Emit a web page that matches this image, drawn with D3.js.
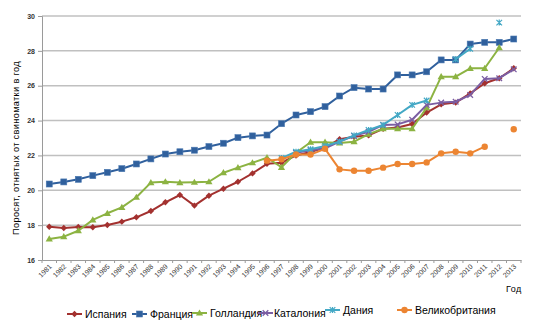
<!DOCTYPE html>
<html><head><meta charset="utf-8">
<script src="https://cdn.jsdelivr.net/npm/d3@7"></script>
<style>
html,body{margin:0;padding:0;background:#fff;}
svg{display:block;font-family:"Liberation Sans",Arial,sans-serif;}
</style></head>
<body><svg id="c" width="550" height="326"></svg>
<script>
const years = d3.range(1981, 2014);
const yTicks = [16,18,20,22,24,26,28,30];
const spain = [17.91,17.84,17.9,17.88,18.01,18.2,18.45,18.81,19.31,19.73,19.12,19.69,20.09,20.49,20.97,21.52,21.58,22.0,22.2,22.45,22.93,23.07,23.15,23.53,23.6,23.8,24.46,24.93,25.03,25.56,26.14,26.43,27.0];
const france = [20.36,20.48,20.63,20.84,21.03,21.24,21.51,21.8,22.08,22.21,22.3,22.51,22.7,23.02,23.12,23.17,23.82,24.32,24.51,24.8,25.41,25.89,25.81,25.81,26.62,26.62,26.8,27.48,27.48,28.39,28.49,28.49,28.68];
const holland = [17.21,17.34,17.68,18.3,18.68,19.02,19.6,20.44,20.49,20.44,20.46,20.49,21.01,21.3,21.58,21.87,21.32,22.15,22.76,22.76,22.72,22.79,23.22,23.53,23.53,23.53,24.74,26.52,26.52,27.0,27.0,28.18,null];
const catalonia = [null,null,null,null,null,null,null,null,null,null,null,null,null,null,null,null,null,22.15,22.3,22.41,22.8,23.12,23.36,23.75,23.78,24.05,24.9,25.03,25.08,25.47,26.39,26.43,26.94];
const denmark = [null,null,null,null,null,null,null,null,null,null,null,null,null,null,null,null,21.85,22.21,22.35,22.54,22.79,23.15,23.46,23.75,24.32,24.9,25.15,null,27.52,28.12,null,29.62,null];
const uk = [null,null,null,null,null,null,null,null,null,null,null,null,null,null,null,21.7,21.78,22.05,22.05,22.38,21.2,21.12,21.12,21.3,21.51,21.51,21.6,22.12,22.21,22.12,22.5,null,23.5];
const seriesNames = ["Испания","Франция","Голландия","Каталония","Дания","Великобритания"];

const series = [
  {name:seriesNames[0], values:spain, color:"#A3312F", marker:"diamond"},
  {name:seriesNames[1], values:france, color:"#30609D", marker:"square"},
  {name:seriesNames[2], values:holland, color:"#8CB342", marker:"triangle"},
  {name:seriesNames[3], values:catalonia, color:"#7B5EA3", marker:"x"},
  {name:seriesNames[4], values:denmark, color:"#43A8C5", marker:"star"},
  {name:seriesNames[5], values:uk, color:"#EC8532", marker:"circle"}
];

const svg = d3.select("#c");
const L = 42, R = 521, T = 16, B = 260;
const x = d3.scaleBand().domain(years).range([L, R]).padding(0);
const y = d3.scaleLinear().domain([16, 30]).range([B, T]);
const cx = yr => x(yr) + x.bandwidth()/2;

// gridlines
svg.append("g").selectAll("line").data(yTicks.filter(t => t > 16)).join("line")
  .attr("x1", L).attr("x2", R).attr("y1", d => y(d)).attr("y2", d => y(d))
  .attr("stroke", "#C0C0C0").attr("stroke-width", 1.5);

// y axis
const yAxis = svg.append("g").attr("transform", `translate(${L},0)`)
  .call(d3.axisLeft(y).tickValues(yTicks).tickSize(4).tickPadding(3).tickFormat(d3.format("d")));
yAxis.select(".domain").attr("stroke", "#9A9A9A");
yAxis.selectAll(".tick line").attr("stroke", "#9A9A9A");
yAxis.selectAll("text").attr("font-size", 7).attr("fill", "#333").attr("font-weight", "bold");

// x axis
const xAxis = svg.append("g").attr("transform", `translate(0,${B})`)
  .call(d3.axisBottom(x).tickSize(0).tickPadding(0));
xAxis.select(".domain").attr("stroke", "#9A9A9A");
xAxis.selectAll("text")
  .attr("font-size", 7).attr("fill", "#333")
  .attr("text-anchor", "end")
  .attr("dy", 0).attr("y", 0)
  .attr("transform", "translate(3,7) rotate(-45)");
// boundary ticks
svg.append("g").selectAll("line").data(years.concat([null])).join("line")
  .attr("x1", d => d == null ? R : x(d)).attr("x2", d => d == null ? R : x(d))
  .attr("y1", B).attr("y2", B + 3).attr("stroke", "#9A9A9A");

// axis titles
svg.append("text").attr("transform", `translate(19,148) rotate(-90)`)
  .attr("text-anchor", "middle").attr("font-size", 9.2).attr("letter-spacing", 0.35)
  .attr("fill", "#000").text("Поросят, отнятых от свиноматки в год");
svg.append("text").attr("x", 506).attr("y", 292).attr("font-size", 9).attr("letter-spacing", 0.5)
  .attr("fill", "#000").text("Год");

function drawMarker(g, type, color, px, py) {
  if (type === "square") {
    g.append("rect").attr("x", px-3).attr("y", py-3).attr("width", 6).attr("height", 6)
      .attr("fill", color).attr("stroke", "#4a78b0").attr("stroke-width", 0.6);
  } else if (type === "diamond") {
    g.append("path").attr("d", `M${px},${py-3.2}L${px+3.2},${py}L${px},${py+3.2}L${px-3.2},${py}Z`).attr("fill", color);
  } else if (type === "triangle") {
    g.append("path").attr("d", `M${px},${py-3.6}L${px+3.6},${py+2.6}L${px-3.6},${py+2.6}Z`).attr("fill", color);
  } else if (type === "circle") {
    g.append("circle").attr("cx", px).attr("cy", py).attr("r", 3.2).attr("fill", color);
  } else if (type === "x") {
    g.append("path").attr("d", `M${px-2.8},${py-2.8}L${px+2.8},${py+2.8}M${px-2.8},${py+2.8}L${px+2.8},${py-2.8}`)
      .attr("stroke", color).attr("stroke-width", 1.3);
  } else if (type === "star") {
    g.append("path").attr("d", `M${px-2.8},${py-2.8}L${px+2.8},${py+2.8}M${px-2.8},${py+2.8}L${px+2.8},${py-2.8}M${px},${py-3}L${px},${py+3}`)
      .attr("stroke", color).attr("stroke-width", 1.2);
  }
}

const line = d3.line().defined(d => d.v != null).x(d => cx(d.yr)).y(d => y(d.v));
series.forEach(s => {
  const pts = years.map((yr, i) => ({yr, v: s.values[i]}));
  const g = svg.append("g");
  g.append("path").datum(pts).attr("d", line).attr("fill", "none")
    .attr("stroke", s.color).attr("stroke-width", 2).attr("stroke-linejoin", "round");
  pts.filter(p => p.v != null).forEach(p => drawMarker(g, s.marker, s.color, cx(p.yr), y(p.v)));
});

// legend
const legendPos = [
  {mx: 67, ty: 318, tx: 85},
  {mx: 132, ty: 318, tx: 150},
  {mx: 192, ty: 317, tx: 210},
  {mx: 258, ty: 317, tx: 274},
  {mx: 325, ty: 314, tx: 343},
  {mx: 397, ty: 314, tx: 415}
];
series.forEach((s, i) => {
  const p = legendPos[i];
  const g = svg.append("g");
  g.append("line").attr("x1", p.mx).attr("x2", p.mx + 15).attr("y1", p.ty - 4).attr("y2", p.ty - 4)
    .attr("stroke", s.color).attr("stroke-width", 2);
  drawMarker(g, s.marker, s.color, p.mx + 7.5, p.ty - 4);
  g.append("text").attr("x", p.tx).attr("y", p.ty).attr("font-size", 10.5).attr("fill", "#000").text(s.name);
});
</script></body></html>
